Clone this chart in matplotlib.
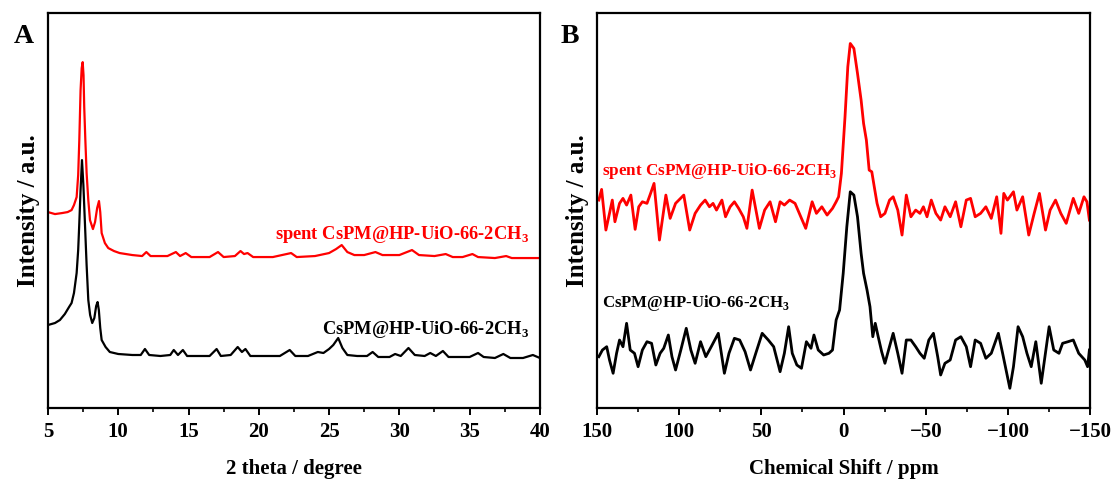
import numpy as np
import matplotlib
matplotlib.use("Agg")
import matplotlib.pyplot as plt
from matplotlib.ticker import MultipleLocator

plt.rcParams['font.family'] = ['Liberation Serif', 'DejaVu Serif']
plt.rcParams['font.weight'] = 'bold'
plt.rcParams['mathtext.fontset'] = 'custom'
plt.rcParams['mathtext.rm'] = 'Liberation Serif:bold'
plt.rcParams['mathtext.bf'] = 'Liberation Serif:bold'
plt.rcParams['axes.unicode_minus'] = True

# ---------------- Panel A: XRD ----------------
xrd_black_2theta = [5.0, 5.5, 5.85, 6.2, 6.5, 6.68, 6.85, 7.04, 7.15, 7.23,
                    7.32, 7.42, 7.52, 7.63, 7.75, 7.87, 8.0, 8.15, 8.3, 8.43,
                    8.53, 8.62, 8.72, 8.82, 9.1, 9.4, 10.0, 11.0, 11.6, 11.9,
                    12.2, 13.0, 13.7, 13.95, 14.25, 14.6, 14.9, 15.5, 16.5, 17.0,
                    17.3, 18.0, 18.5, 18.8, 19.05, 19.4, 20.5, 21.5, 22.2, 22.6,
                    23.5, 24.2, 24.6, 25.0, 25.3, 25.65, 25.95, 26.3, 27.0, 27.7,
                    28.1, 28.5, 29.3, 29.7, 30.1, 30.65, 31.1, 31.8, 32.2, 32.6,
                    33.1, 33.5, 34.5, 35.0, 35.6, 36.0, 36.8, 37.4, 37.9, 38.8,
                    39.5, 40.0]
xrd_black_int = [83, 85, 88, 94, 101, 105, 115, 135, 158, 185,
                 218, 248, 223, 185, 143, 108, 93, 85, 90, 102,
                 106, 98, 80, 68, 61, 56, 54, 53, 53, 59,
                 53, 52, 53, 58, 53, 58, 52, 52, 52, 59,
                 52, 53, 61, 56, 59, 52, 52, 52, 58, 52,
                 52, 56, 55, 59, 63, 70, 60, 53, 52, 52,
                 56, 51, 51, 54, 52, 60, 53, 52, 55, 52,
                 57, 51, 51, 51, 55, 51, 50, 54, 50, 50,
                 53, 50]

xrd_red_2theta = [5.0, 5.5, 6.0, 6.4, 6.68, 6.85, 7.04, 7.15, 7.23, 7.32,
                  7.4, 7.47, 7.53, 7.58, 7.66, 7.75, 7.87, 7.99, 8.2, 8.35,
                  8.5, 8.63, 8.72, 8.82, 9.05, 9.29, 9.7, 10.1, 11.0, 11.7,
                  12.0, 12.3, 13.5, 14.1, 14.4, 14.8, 15.2, 16.5, 17.1, 17.5,
                  18.3, 18.7, 18.95, 19.2, 19.6, 21.0, 22.3, 22.7, 24.0, 25.0,
                  25.5, 25.9, 26.3, 26.8, 27.5, 28.3, 28.8, 30.0, 30.9, 31.4,
                  32.5, 33.3, 33.8, 34.5, 35.2, 35.6, 36.8, 37.6, 38.0, 39.0,
                  40.0]
xrd_red_int = [196, 194, 195, 196, 198, 203, 211, 233, 268, 318,
               340, 346, 333, 301, 268, 235, 208, 188, 179, 186,
               200, 207, 196, 175, 165, 160, 157, 155, 153, 152,
               156, 152, 152, 156, 152, 155, 151, 151, 156, 151,
               152, 157, 154, 155, 151, 151, 155, 151, 152, 155,
               159, 163, 156, 153, 153, 156, 153, 153, 158, 153,
               152, 154, 151, 151, 154, 151, 150, 152, 150, 150,
               150]

# ---------------- Panel B: NMR ----------------
nmr_black_ppm = [148.9, 146.7, 144.1, 142.4, 140.2, 138.1, 136.3, 134.2, 132.0, 129.8,
                 127.2, 125.0, 122.4, 119.6, 116.8, 114.2, 111.6, 109.4, 106.6, 104.4,
                 102.2, 99.0, 95.7, 92.9, 90.3, 87.0, 83.8, 80.5, 76.2, 72.5,
                 69.7, 66.4, 63.2, 59.9, 56.6, 53.4, 49.5, 45.8, 42.5, 38.6,
                 36.0, 33.4, 31.2, 28.4, 25.6, 22.6, 19.8, 18.0, 15.4, 12.1,
                 8.9, 6.7, 4.5, 2.4, 0.2, -2.0, -4.1, -6.3, -8.5, -10.7,
                 -12.2, -14.3, -16.1, -17.8, -19.3, -21.1, -23.2, -25.2, -27.4, -30.2,
                 -33.0, -35.6, -38.2, -41.0, -43.9, -46.5, -49.1, -51.9, -54.7, -57.3,
                 -59.1, -61.7, -64.9, -68.2, -71.4, -74.7, -77.3, -80.1, -83.4, -86.6,
                 -89.9, -94.2, -96.8, -101.2, -103.4, -106.2, -109.0, -111.6, -114.2, -117.0,
                 -120.3, -125.1, -127.9, -131.1, -133.3, -136.6, -139.8, -143.1, -146.8, -148.5,
                 -149.6]
nmr_black_int = [51.3, 58, 61.3, 48, 34.7, 54.7, 68, 61.3, 84.7, 58,
                 54.7, 41.3, 58, 66.3, 64.7, 43, 54.7, 59.7, 73, 51.3,
                 38, 58, 79.7, 58, 44.7, 66.3, 51.3, 61.3, 74.7, 34.7,
                 54.7, 69.7, 68, 56.3, 38, 54.7, 74.7, 68, 61.3, 36.3,
                 54.7, 81.3, 54.7, 43, 39.7, 66.3, 59.7, 73, 58, 53,
                 54.7, 58, 88, 98, 134.7, 181.3, 216.3, 213, 191.3, 154.7,
                 134.7, 118, 101.3, 71.3, 84.7, 71.3, 56.3, 44.7, 58, 74.7,
                 54.7, 34.7, 68, 68, 61.3, 54.7, 49.7, 68, 74.7, 51.3,
                 33, 44.7, 48, 68, 71.3, 61.3, 41.3, 68, 64.7, 49.7,
                 54.7, 74.7, 54.7, 19.7, 41.3, 81.3, 71.3, 54.7, 41.3, 66.3,
                 24.7, 81.3, 58, 54.7, 64.7, 66.3, 68, 54.7, 48, 41.3,
                 58]

nmr_red_ppm = [148.9, 147.2, 144.6, 142.4, 140.7, 139.1, 136.3, 134.2, 132.0, 129.4,
               126.8, 124.6, 122.4, 119.6, 117.4, 115.3, 112.0, 108.1, 105.5, 102.2,
               97.2, 93.6, 90.3, 87.0, 84.2, 81.6, 79.4, 77.3, 74.0, 71.8,
               69.0, 66.4, 63.8, 61.0, 58.8, 55.6, 51.2, 48.0, 44.7, 41.4,
               38.6, 36.0, 32.8, 29.5, 26.9, 23.0, 19.1, 16.5, 13.2, 10.0,
               6.7, 4.5, 3.0, 1.3, -0.9, -2.6, -4.1, -6.3, -8.5, -10.7,
               -12.2, -13.9, -15.6, -17.2, -18.7, -20.4, -22.6, -25.2, -28.0, -30.2,
               -33.0, -35.6, -38.2, -41.0, -43.9, -46.5, -48.6, -50.8, -53.4, -56.2,
               -59.1, -61.7, -64.9, -68.2, -71.4, -74.7, -77.3, -80.1, -83.4, -86.6,
               -89.9, -93.2, -95.8, -97.5, -99.7, -101.2, -103.4, -105.5, -109.0, -112.7,
               -116.0, -119.2, -122.9, -125.7, -129.0, -132.2, -135.5, -139.8, -143.1, -146.3,
               -148.1, -149.6]
nmr_red_int = [208, 218.7, 178, 194.7, 208, 186.3, 204.7, 209.7, 203, 213,
               178.7, 201.3, 206.3, 204.7, 214.7, 224.7, 168, 213, 189.7, 204.7,
               213, 178, 194.7, 203, 208, 201.3, 204.7, 198, 208, 191.3,
               201.3, 206.3, 199.7, 191.3, 179.7, 218, 179.7, 198, 206.3, 186.3,
               206.3, 203, 208, 204.7, 194.7, 179.7, 206.3, 194.7, 201.3, 193,
               199.7, 206.3, 211.3, 234.7, 291.3, 341.3, 364.7, 359.7, 334.7, 308,
               284.7, 268, 238, 236.3, 221.3, 204.7, 191.3, 194.7, 208, 211.3,
               198, 173, 213, 191.3, 198, 194.7, 201.3, 191.3, 208, 194.7,
               188, 201.3, 191.3, 206.3, 181.3, 208, 209.7, 191.3, 194.7, 201.3,
               189.7, 211.3, 174.7, 214.7, 208, 211.3, 216.3, 198, 211.3, 173,
               194.7, 214.7, 178, 198, 208, 194.7, 184.7, 209.7, 194.7, 211.3,
               206.3, 188]

label_spent = r'spent CsPM@HP-UiO-66-2CH$_{3}$'
label_fresh = r'CsPM@HP-UiO-66-2CH$_{3}$'

fig = plt.figure(figsize=(11.18, 4.88), dpi=100)
axA = fig.add_axes([0.0429, 0.164, 0.440, 0.809])
axB = fig.add_axes([0.534, 0.164, 0.441, 0.809])

axA.plot(xrd_black_2theta, xrd_black_int, color='black', lw=1.6)
axA.plot(xrd_red_2theta, xrd_red_int, color='#ff0000', lw=1.6)
axA.set_xlim(5, 40)
axA.set_ylim(0, 395)
axA.xaxis.set_major_locator(MultipleLocator(5))
axA.xaxis.set_minor_locator(MultipleLocator(2.5))
axA.set_xlabel('2 theta / degree', fontsize=15, fontweight='bold', labelpad=12)
axA.set_ylabel('Intensity / a.u.', fontsize=18, fontweight='bold', labelpad=6)
axA.text(0.978, 0.44, label_spent, color='#ff0000', transform=axA.transAxes,
         ha='right', va='center', fontsize=13.3, fontweight='bold')
axA.text(0.978, 0.198, label_fresh, color='black', transform=axA.transAxes,
         ha='right', va='center', fontsize=13.3, fontweight='bold')

axB.plot(nmr_black_ppm, nmr_black_int, color='black', lw=2.0)
axB.plot(nmr_red_ppm, nmr_red_int, color='#ff0000', lw=2.0)
axB.set_xlim(150, -150)
axB.set_ylim(0, 395)
axB.xaxis.set_major_locator(MultipleLocator(50))
axB.xaxis.set_minor_locator(MultipleLocator(25))
axB.set_xlabel('Chemical Shift / ppm', fontsize=15, fontweight='bold', labelpad=12)
axB.set_ylabel('Intensity / a.u.', fontsize=18, fontweight='bold', labelpad=6)
axB.text(0.01, 0.60, label_spent, color='#ff0000', transform=axB.transAxes,
         ha='left', va='center', fontsize=12.3, fontweight='bold')
axB.text(0.01, 0.265, label_fresh, color='black', transform=axB.transAxes,
         ha='left', va='center', fontsize=12.1, fontweight='bold')

for ax in (axA, axB):
    ax.set_yticks([])
    for s in ax.spines.values():
        s.set_linewidth(1.6)
    ax.tick_params(axis='x', which='major', direction='out', length=5, width=1.4,
                   labelsize=15, pad=5)
    ax.tick_params(axis='x', which='minor', direction='out', length=3, width=1.2)
    for lab in ax.get_xticklabels():
        lab.set_fontweight('bold')

fig.text(0.012, 0.925, 'A', fontsize=20, fontweight='bold', ha='left', va='center')
fig.text(0.501, 0.925, 'B', fontsize=20, fontweight='bold', ha='left', va='center')

fig.savefig('out.png', dpi=100)
